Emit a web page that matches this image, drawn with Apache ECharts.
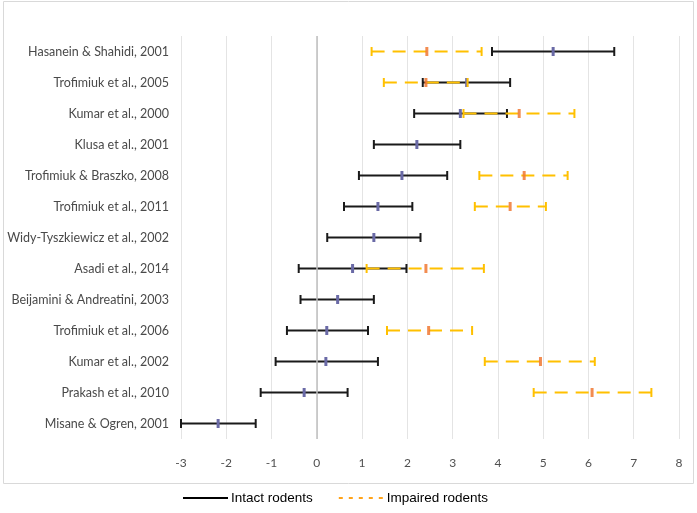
<!DOCTYPE html>
<html>
<head>
<meta charset="utf-8">
<script src="https://cdn.jsdelivr.net/npm/echarts@6/dist/echarts.min.js"></script>
<style>
  html, body { margin: 0; padding: 0; background: #fff; }
  #chart { width: 697px; height: 513px; }
</style>
</head>
<body>
<div id="chart"></div>
<script>
// studies, top to bottom
const studies = [
  'Hasanein & Shahidi, 2001',
  'Trofimiuk et al., 2005',
  'Kumar et al., 2000',
  'Klusa et al., 2001',
  'Trofimiuk & Braszko, 2008',
  'Trofimiuk et al., 2011',
  'Widy-Tyszkiewicz et al., 2002',
  'Asadi et al., 2014',
  'Beijamini & Andreatini, 2003',
  'Trofimiuk et al., 2006',
  'Kumar et al., 2002',
  'Prakash et al., 2010',
  'Misane & Ogren, 2001'
]

// intact rodents: effect size with lower / upper bound
const intactMean = [5.22, 3.31, 3.17, 2.21, 1.88, 1.35, 1.26, 0.79, 0.46, 0.22, 0.20, -0.28, -2.18]
const intactLow = [3.87, 2.34, 2.15, 1.26, 0.93, 0.60, 0.23, -0.40, -0.36, -0.66, -0.91, -1.24, -3.00]
const intactHigh = [6.57, 4.27, 4.20, 3.17, 2.88, 2.11, 2.29, 1.98, 1.26, 1.13, 1.35, 0.68, -1.35]

// impaired rodents (null = not reported)
const impairedMean = [2.43, 2.41, 4.47, null, 4.58, 4.27, null, 2.41, null, 2.47, 4.94, 6.08, null]
const impairedLow = [1.21, 1.48, 3.24, null, 3.59, 3.49, null, 1.10, null, 1.55, 3.71, 4.79, null]
const impairedHigh = [3.64, 3.33, 5.69, null, 5.54, 5.06, null, 3.69, null, 3.43, 6.14, 7.39, null]

const xTicks = { min: -3, max: 8, interval: 1 }

function toRows(low, mean, high) {
  const rows = []
  mean.forEach((m, i) => {
    if (m === null) return
    rows.push([i, low[i], m, high[i]])
  })
  return rows
}

function makeRenderer(lineColor, lineDash, markColor) {
  return function (params, api) {
    const cat = api.value(0)
    const pLow = api.coord([api.value(1), cat])
    const pMid = api.coord([api.value(2), cat])
    const pHigh = api.coord([api.value(3), cat])
    const capH = 4.5
    return {
      type: 'group',
      children: [
        {
          type: 'line',
          shape: { x1: pLow[0], y1: pLow[1], x2: pHigh[0], y2: pHigh[1] },
          style: { stroke: lineColor, lineWidth: 2, lineDash: lineDash }
        },
        {
          type: 'line',
          shape: { x1: pLow[0], y1: pLow[1] - capH, x2: pLow[0], y2: pLow[1] + capH },
          style: { stroke: lineColor, lineWidth: 2 }
        },
        {
          type: 'line',
          shape: { x1: pHigh[0], y1: pHigh[1] - capH, x2: pHigh[0], y2: pHigh[1] + capH },
          style: { stroke: lineColor, lineWidth: 2 }
        },
        {
          type: 'rect',
          shape: { x: pMid[0] - 1.5, y: pMid[1] - 4.5, width: 3, height: 9 },
          style: { fill: markColor }
        }
      ]
    }
  }
}

const chart = echarts.init(document.getElementById('chart'))

chart.setOption({
  animation: false,
  textStyle: { fontFamily: 'Lato, "Liberation Sans", sans-serif' },
  graphic: [
    {
      type: 'rect',
      shape: { x: 3.5, y: 1.5, width: 690, height: 482 },
      style: { fill: 'none', stroke: '#d9d9d9', lineWidth: 1 },
      silent: true,
      z: -10
    }
  ],
  grid: {
    left: 181,
    right: 18,
    top: 36,
    bottom: 74
  },
  legend: {
    left: 182,
    top: 491,
    padding: 0,
    itemWidth: 45,
    itemHeight: 14,
    itemGap: 25,
    data: [
      { name: 'Intact rodents', itemStyle: { opacity: 0 } },
      { name: 'Impaired rodents', itemStyle: { opacity: 0 } }
    ],
    textStyle: {
      fontFamily: '"Liberation Sans", Arial, sans-serif',
      fontSize: 13.5,
      color: '#000',
      padding: [0, 0, 0, -2]
    }
  },
  xAxis: {
    type: 'value',
    min: xTicks.min,
    max: xTicks.max,
    interval: xTicks.interval,
    axisLine: { show: false },
    axisTick: { show: false },
    axisLabel: { color: '#505050', fontSize: 12, margin: 18 },
    splitLine: { lineStyle: { color: '#e4e4e4', width: 1 } }
  },
  yAxis: {
    type: 'category',
    data: studies,
    inverse: true,
    axisLine: { show: false },
    axisTick: { show: false },
    splitLine: { show: false },
    axisLabel: { color: '#4a4a4a', fontSize: 12.5, margin: 12 }
  },
  series: [
    {
      name: 'Intact rodents',
      type: 'line',
      data: [],
      symbol: 'none',
      lineStyle: { color: '#000', width: 2 },
      itemStyle: { color: '#000' },
      markLine: {
        silent: true,
        symbol: 'none',
        label: { show: false },
        lineStyle: { color: '#bfbfbf', type: 'solid', width: 1.5 },
        data: [{ xAxis: 0 }]
      }
    },
    {
      name: 'Impaired rodents',
      type: 'line',
      data: [],
      symbol: 'none',
      lineStyle: { color: '#ffa31a', width: 1.5, type: [4, 6] },
      itemStyle: { color: '#ffa31a' }
    },
    {
      name: 'intact',
      type: 'custom',
      renderItem: makeRenderer('#1a1a1a', null, '#6a6aa6'),
      encode: { x: [1, 2, 3], y: 0 },
      data: toRows(intactLow, intactMean, intactHigh),
      z: 3
    },
    {
      name: 'impaired',
      type: 'custom',
      renderItem: makeRenderer('#ffc000', [13, 8], 'rgba(240, 120, 50, 0.85)'),
      encode: { x: [1, 2, 3], y: 0 },
      data: toRows(impairedLow, impairedMean, impairedHigh),
      z: 4
    }
  ]
})
</script>
</body>
</html>
